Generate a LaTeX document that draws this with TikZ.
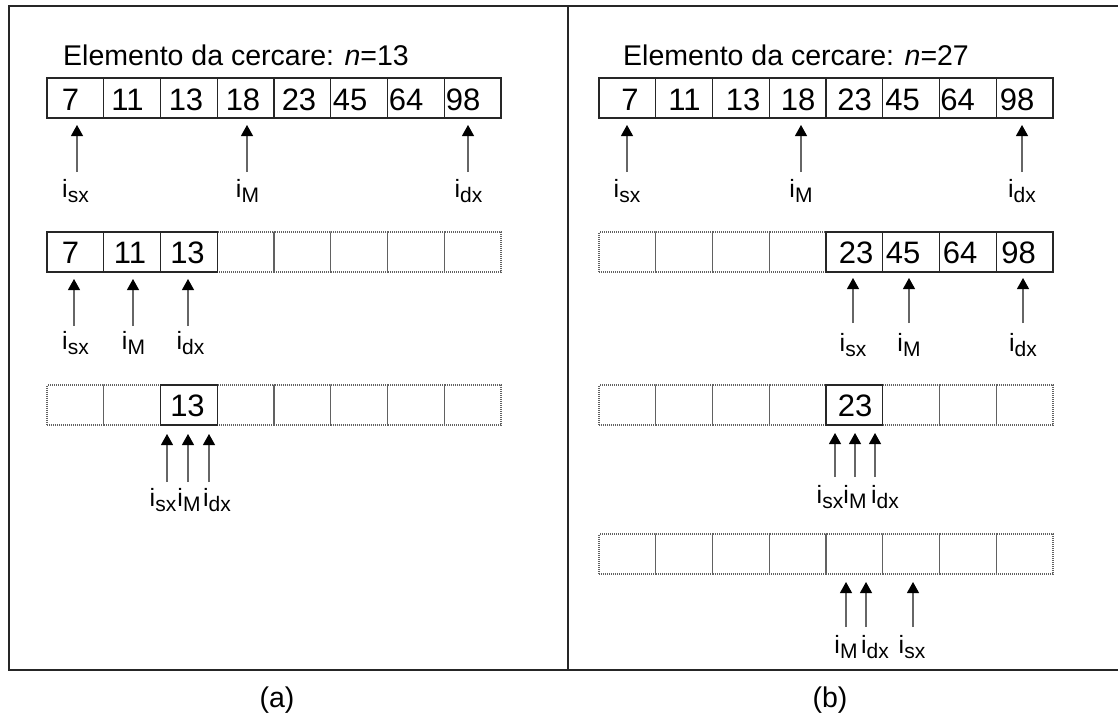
\documentclass[tikz,border=0pt]{standalone}
\usepackage{fontspec}
\setmainfont{Liberation Sans}
\usetikzlibrary{arrows.meta}
\newcommand{\ix}[1]{{\fontsize{25}{25}\selectfont i}\raisebox{-5.5pt}{\fontsize{21}{21}\selectfont #1}}
\begin{document}
\begin{tikzpicture}[x=1pt,y=-1pt,
  cellbox/.style={minimum width=56.75pt, minimum height=40pt, inner sep=0pt, outer sep=0pt, anchor=north west},
  cellsolid/.style={cellbox, draw=black!85, line width=1.1pt},
  celldot/.style={cellbox, draw=black!62, line width=1.2pt, dash pattern=on 1pt off 1pt},
  num/.style={anchor=base, inner sep=0pt, font=\fontsize{31}{32}\selectfont},
  lbl/.style={anchor=base, inner sep=0pt},
  ptr/.style={draw=black!60, line width=1.1pt, -{Triangle[length=11pt,width=12pt,color=black]}},
  frame/.style={draw=black!85, line width=1.5pt}]
\useasboundingbox (0,0) rectangle (1118,715);
% frame
\draw[frame] (1118,6) -- (9,6) -- (9,670) -- (1118,670);
\draw[frame] (568,6) -- (568,670);
% titles
\node[anchor=base west, inner sep=0pt, font=\fontsize{28.5}{30}\selectfont] (titleA) at (63,65.5) {Elemento da cercare: \textit{n}=13};
\node[anchor=base west, inner sep=0pt, font=\fontsize{28.5}{30}\selectfont] (titleB) at (623,65.5) {Elemento da cercare: \textit{n}=27};
% ---------- panel (a) ----------
\foreach \i in {1,...,8} \node[cellsolid] (A1c\i) at ({47+(\i-1)*56.75},78) {};
\foreach \i in {4,...,8} \node[celldot] (A2c\i) at ({47+(\i-1)*56.75},232) {};
\foreach \i in {1,2,3} \node[cellsolid] (A2c\i) at ({47+(\i-1)*56.75},232) {};
\foreach \i in {1,2,4,5,6,7,8} \node[celldot] (A3c\i) at ({47+(\i-1)*56.75},385) {};
\node[cellsolid] (A3c3) at ({47+2*56.75},385) {};
% numbers
\foreach \v/\x [count=\k] in {7/70.5,11/127.5,13/186,18/243,23/299,45/350,64/406,98/463}
  \node[num] (A1n\k) at (\x,110) {\v};
\foreach \v/\x [count=\k] in {7/70.5,11/130,13/187.5}
  \node[num] (A2n\k) at (\x,263.5) {\v};
\node[num] (A3n3) at (187.5,416.5) {13};
% pointers row 1
\draw[ptr] (77,172) -- (77,125);
\draw[ptr] (247,172) -- (247,125);
\draw[ptr] (468,172) -- (468,125);
\node[lbl] (A1sx) at (75.5,197) {\ix{sx}};
\node[lbl] (A1M) at (247.5,197) {\ix{M}};
\node[lbl] (A1dx) at (468.5,197) {\ix{dx}};
% pointers row 2
\draw[ptr] (74,326) -- (74,279);
\draw[ptr] (133,326) -- (133,279);
\draw[ptr] (188,326) -- (188,279);
\node[lbl] (A2sx) at (75.5,349) {\ix{sx}};
\node[lbl] (A2M) at (133.5,349) {\ix{M}};
\node[lbl] (A2dx) at (190.5,349) {\ix{dx}};
% pointers row 3
\draw[ptr] (167,482) -- (167,434);
\draw[ptr] (188,482) -- (188,434);
\draw[ptr] (209,482) -- (209,434);
\node[lbl] (A3sx) at (163,506) {\ix{sx}};
\node[lbl] (A3M) at (189,506) {\ix{M}};
\node[lbl] (A3dx) at (217,506) {\ix{dx}};
% ---------- panel (b) ----------
\foreach \i in {1,...,8} \node[cellsolid] (B1c\i) at ({599+(\i-1)*56.75},78) {};
\foreach \i in {1,...,4} \node[celldot] (B2c\i) at ({599+(\i-1)*56.75},232) {};
\foreach \i in {5,...,8} \node[cellsolid] (B2c\i) at ({599+(\i-1)*56.75},232) {};
\foreach \i in {1,2,3,4,6,7,8} \node[celldot] (B3c\i) at ({599+(\i-1)*56.75},385) {};
\node[cellsolid] (B3c5) at ({599+4*56.75},385) {};
\foreach \i in {1,...,8} \node[celldot] (B4c\i) at ({599+(\i-1)*56.75},534) {};
% numbers
\foreach \v/\x [count=\k] in {7/630,11/684.5,13/743,18/798,23/854.5,45/902.5,64/957.5,98/1017}
  \node[num] (B1n\k) at (\x,110) {\v};
\foreach \v/\x [count=\k] in {23/856,45/903,64/960,98/1018.5}
  \node[num] (B2n\k) at (\x,263.5) {\v};
\node[num] (B3n5) at (855,416.5) {23};
% pointers row 1
\draw[ptr] (627,172) -- (627,125);
\draw[ptr] (801,172) -- (801,125);
\draw[ptr] (1022,172) -- (1022,125);
\node[lbl] (B1sx) at (627,197) {\ix{sx}};
\node[lbl] (B1M) at (801,197) {\ix{M}};
\node[lbl] (B1dx) at (1022,197) {\ix{dx}};
% pointers row 2
\draw[ptr] (853,323) -- (853,278);
\draw[ptr] (909,323) -- (909,278);
\draw[ptr] (1023,323) -- (1023,278);
\node[lbl] (B2sx) at (853,351) {\ix{sx}};
\node[lbl] (B2M) at (909,351) {\ix{M}};
\node[lbl] (B2dx) at (1023,351) {\ix{dx}};
% pointers row 3
\draw[ptr] (835,477) -- (835,433);
\draw[ptr] (855,477) -- (855,433);
\draw[ptr] (875,477) -- (875,433);
\node[lbl] (B3sx) at (830,503) {\ix{sx}};
\node[lbl] (B3M) at (855,503) {\ix{M}};
\node[lbl] (B3dx) at (885,503) {\ix{dx}};
% pointers row 4
\draw[ptr] (846,627) -- (846,582);
\draw[ptr] (866,627) -- (866,582);
\draw[ptr] (913,627) -- (913,582);
\node[lbl] (B4M) at (846,653) {\ix{M}};
\node[lbl] (B4dx) at (875,653) {\ix{dx}};
\node[lbl] (B4sx) at (912,653) {\ix{sx}};
% captions
\node[anchor=base, inner sep=0pt, font=\fontsize{28.5}{30}\selectfont] (capA) at (277,707) {(a)};
\node[anchor=base, inner sep=0pt, font=\fontsize{28.5}{30}\selectfont] (capB) at (830,707) {(b)};
\end{tikzpicture}
\end{document}
